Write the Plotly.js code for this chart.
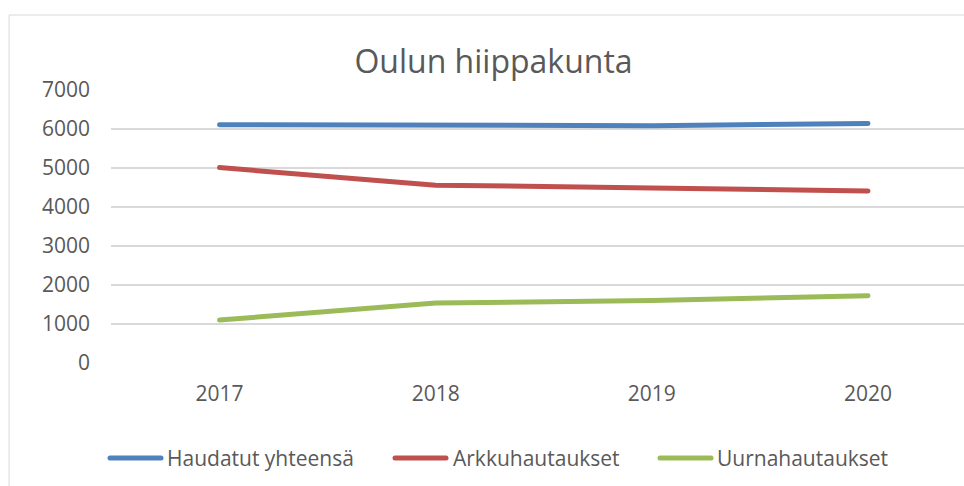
<!DOCTYPE html>
<html>
<head>
<meta charset="utf-8">
<script src="https://cdn.plot.ly/plotly-3.0.1.min.js"></script>
<style>html,body{margin:0;padding:0;background:#fff;overflow:hidden;}#chart{width:964px;height:486px;overflow:hidden;}
.js-line,.shapelayer path{stroke-linecap:round;stroke-linejoin:round;}</style>
</head>
<body>
<div id="chart"></div>
<script>
const categories = ['2017', '2018', '2019', '2020'];
const seriesNames = ['Haudatut yhteensä', 'Arkkuhautaukset', 'Uurnahautaukset'];
const haudatutYhteensa = [6110, 6085, 6085, 6140];
const arkkuhautaukset = [5010, 4560, 4490, 4410];
const uurnahautaukset = [1100, 1540, 1600, 1725];
const yTickValues = [0, 1000, 2000, 3000, 4000, 5000, 6000, 7000];
const chartTitle = 'Oulun hiippakunta';

const colors = ['#4f81bd', '#c0504d', '#9bbb59'];
const seriesValues = [haudatutYhteensa, arkkuhautaukset, uurnahautaukset];

const W = 964, H = 486;
const M = {l: 111, r: 0, t: 90, b: 123};
const plotW = W - M.l - M.r, plotH = H - M.t - M.b;
const px2x = px => (px - M.l) / plotW;
const py2y = py => (H - M.b - py) / plotH;

const FONT = '"Open Sans", "Segoe UI", sans-serif';
const TXT = '#595959';

const traces = seriesValues.map((vals, i) => ({
  type: 'scatter', mode: 'lines',
  x: categories, y: vals, name: seriesNames[i],
  line: {color: colors[i], width: 5, shape: 'linear'},
  showlegend: false, hoverinfo: 'x+y+name'
}));

const legendLines = [[110, 161, 166], [395, 446, 452], [660, 711, 716]];
const legendY = 458;
const shapes = [{
  type: 'rect', xref: 'paper', yref: 'paper',
  x0: px2x(9.5), x1: px2x(1000), y0: py2y(520), y1: py2y(15),
  line: {color: '#d9d9d9', width: 1}, fillcolor: 'rgba(0,0,0,0)', layer: 'below'
}];
const annotations = [];
seriesNames.forEach((n, i) => {
  shapes.push({type: 'line', xref: 'paper', yref: 'paper',
    x0: px2x(legendLines[i][0]), x1: px2x(legendLines[i][1]),
    y0: py2y(legendY), y1: py2y(legendY),
    line: {color: colors[i], width: 5}});
  annotations.push({xref: 'paper', yref: 'paper', x: px2x(legendLines[i][2]), y: py2y(legendY),
    xanchor: 'left', yanchor: 'middle', showarrow: false, text: n,
    font: {family: FONT, size: 21, color: TXT}, borderpad: 0});
});

const layout = {
  width: W, height: H,
  margin: M,
  paper_bgcolor: '#ffffff', plot_bgcolor: '#ffffff',
  font: {family: FONT, color: TXT},
  title: {text: chartTitle, font: {family: FONT, size: 32, color: TXT},
    xref: 'container', yref: 'container', x: 493.5 / W, xanchor: 'center',
    y: 1 - 62 / H, yanchor: 'middle'},
  showlegend: false,
  xaxis: {type: 'category', range: [-0.502, 3.444], showgrid: false, zeroline: false,
    showline: false, ticks: '', tickfont: {family: FONT, size: 21, color: TXT},
    ticklabelstandoff: 16, fixedrange: true},
  yaxis: {range: [0, 7000], tickvals: yTickValues, ticktext: yTickValues.map(String),
    showgrid: true, gridcolor: '#d9d9d9', gridwidth: 1.5, zeroline: false, showline: false,
    ticks: '', tickfont: {family: FONT, size: 21, color: TXT}, ticklabelstandoff: 20, fixedrange: true},
  shapes: shapes,
  annotations: annotations
};

Plotly.newPlot('chart', traces, layout, {displayModeBar: false, staticPlot: true});
</script>
</body>
</html>
